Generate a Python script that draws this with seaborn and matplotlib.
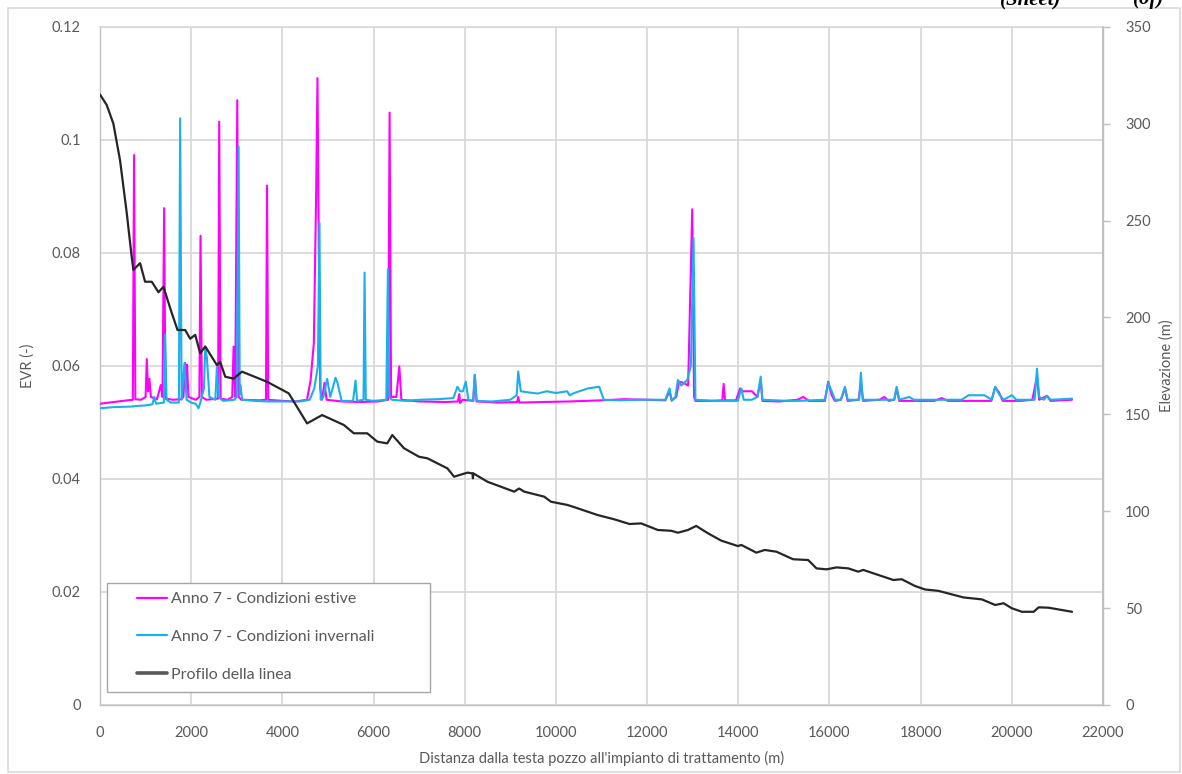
import matplotlib
matplotlib.use("Agg")
import matplotlib.pyplot as plt
from matplotlib.lines import Line2D
from matplotlib.patches import Rectangle
import pandas as pd
import seaborn as sns

# Distance along the line (m) and EVR, summer conditions
estive_dist = [0, 300, 600, 720, 747, 775, 900, 1000, 1026, 1055, 1084, 1115, 1250,
               1333, 1370, 1407, 1435, 1600, 1780, 1830, 1868, 1890, 1910, 1940, 2100,
               2180, 2205, 2235, 2330, 2590, 2615, 2645, 2800, 2900, 2930, 2965, 3011,
               3040, 3100, 3500, 3640, 3663, 3690, 4000, 4300, 4540, 4620, 4690, 4740,
               4770, 4800, 4830, 4870, 4924, 4970, 5300, 5700, 6100, 6320, 6352, 6385,
               6500, 6565, 6610, 7000, 7600, 7850, 7880, 7900, 7950, 8190, 8221, 8260,
               8700, 9150, 9173, 9200, 9700, 10300, 11000, 11500, 12000, 12400, 12492,
               12540, 12640, 12700, 12800, 12900, 12946, 12990, 13030, 13060, 13400,
               13650, 13679, 13710, 13950, 14040, 14100, 14300, 14420, 14492, 14530,
               14900, 15300, 15423, 15550, 15900, 15972, 16050, 16120, 16250, 16339,
               16400, 16640, 16690, 16740, 17100, 17200, 17300, 17420, 17474, 17530,
               18300, 18463, 18600, 19550, 19636, 19720, 19800, 20200, 20450, 20552,
               20600, 20772, 20850, 21321]
estive_evr = [.0533, .0536, .0539, .0540, .0973, .0541, .0540, .0545, .0612, .0555, .0577,
              .0545, .0541, .0566, .0545, .0879, .0542, .0540, .0541, .0545, .0605, .0560,
              .0602, .0545, .0540, .0545, .0830, .0545, .0540, .0542, .1032, .0542, .0540,
              .0545, .0634, .0545, .1070, .0545, .0540, .0539, .0540, .0919, .0540, .0538,
              .0537, .0540, .0575, .0640, .0900, .1109, .0800, .0560, .0540, .0570, .0540,
              .0537, .0536, .0537, .0540, .1048, .0545, .0545, .0599, .0540, .0537, .0536,
              .0537, .0550, .0534, .0540, .0538, .0584, .0537, .0535, .0536, .0545, .0535,
              .0536, .0537, .0539, .0541, .0540, .0539, .0555, .0539, .0545, .0572, .0570,
              .0565, .0726, .0877, .0545, .0538, .0538, .0539, .0568, .0539, .0539, .0560,
              .0555, .0555, .0545, .0575, .0538, .0537, .0540, .0545, .0538, .0538, .0572,
              .0548, .0538, .0540, .0560, .0538, .0540, .0570, .0538, .0540, .0545, .0538,
              .0540, .0560, .0538, .0538, .0543, .0538, .0538, .0562, .0553, .0538, .0538,
              .0540, .0581, .0540, .0547, .0538, .0540]

# Distance along the line (m) and EVR, winter conditions
invernali_dist = [0, 300, 700, 800, 1000, 1150, 1190, 1230, 1400, 1428, 1460, 1550, 1730,
                  1758, 1790, 1853, 1900, 2000, 2100, 2161, 2200, 2280, 2308, 2345, 2400,
                  2530, 2564, 2600, 2700, 2950, 3000, 3040, 3065, 3077, 3120, 3400, 3700,
                  4000, 4400, 4600, 4700, 4780, 4814, 4840, 4900, 4983, 5050, 5120, 5165,
                  5202, 5300, 5550, 5605, 5640, 5780, 5803, 5830, 6000, 6280, 6315, 6345,
                  6400, 6700, 7000, 7400, 7750, 7840, 7900, 7960, 8023, 8080, 8180, 8221,
                  8260, 8600, 9000, 9140, 9173, 9230, 9400, 9600, 9800, 10000, 10250,
                  10300, 10400, 10700, 10950, 11050, 11400, 11800, 12400, 12492, 12540,
                  12620, 12676, 12750, 12880, 12960, 13019, 13060, 13500, 13990, 14067,
                  14120, 14300, 14420, 14492, 14530, 15100, 15300, 15900, 15972, 16050,
                  16120, 16250, 16339, 16400, 16650, 16690, 16730, 16900, 17420, 17474,
                  17530, 17750, 17850, 18900, 19050, 19400, 19560, 19636, 19720, 19820,
                  20002, 20100, 20500, 20552, 20600, 20700, 20772, 20850, 21321]
invernali_evr = [.0525, .0527, .0528, .0529, .0530, .0532, .0545, .0533, .0535, .0655,
                 .0540, .0535, .0535, .1038, .0540, .0605, .0540, .0535, .0533, .0525,
                 .0535, .0560, .0632, .0614, .0545, .0540, .0598, .0545, .0538, .0540,
                 .0545, .0988, .0550, .0566, .0540, .0538, .0537, .0537, .0537, .0540,
                 .0560, .0600, .0853, .0540, .0545, .0577, .0545, .0565, .0579, .0572,
                 .0538, .0538, .0574, .0538, .0540, .0765, .0540, .0538, .0540, .0771,
                 .0545, .0540, .0538, .0540, .0541, .0543, .0563, .0555, .0555, .0572,
                 .0540, .0538, .0584, .0538, .0537, .0540, .0548, .0590, .0555, .0553,
                 .0551, .0555, .0552, .0555, .0548, .0552, .0560, .0563, .0540, .0539,
                 .0540, .0540, .0560, .0538, .0545, .0575, .0565, .0575, .0600, .0826,
                 .0540, .0538, .0538, .0560, .0540, .0540, .0545, .0581, .0540, .0538,
                 .0538, .0540, .0570, .0555, .0540, .0540, .0563, .0540, .0540, .0588,
                 .0540, .0540, .0540, .0563, .0540, .0545, .0540, .0540, .0548, .0548,
                 .0540, .0563, .0550, .0540, .0548, .0540, .0540, .0595, .0545, .0540,
                 .0547, .0540, .0542]

# Line profile: distance (m) and elevation (m)
profilo_dist = [0, 147, 293, 440, 586, 696, 733, 879, 989, 1136, 1282, 1392, 1550, 1700,
                1868, 1978, 2088, 2198, 2308, 2564, 2637, 2747, 2930, 3114, 3663, 4140,
                4542, 4872, 5348, 5568, 5861, 6081, 6300, 6411, 6667, 6997, 7181, 7620,
                7767, 8060, 8170, 8180, 8190, 8499, 9083, 9194, 9304, 9743, 9891, 10257,
                10477, 10917, 11283, 11613, 11869, 12236, 12529, 12676, 12895, 13078,
                13335, 13628, 13994, 14067, 14397, 14580, 14837, 15203, 15533, 15716,
                15936, 16156, 16412, 16632, 16742, 17071, 17401, 17584, 17877, 18097,
                18390, 18940, 19343, 19636, 19819, 20002, 20222, 20479, 20589, 20809,
                21028, 21321]
profilo_elev = [315, 309.6, 300, 281, 254, 231, 224.5, 228, 218.4, 218.4, 213, 215.8, 204,
                193.5, 193.5, 189, 191, 181.5, 185, 175.4, 177, 169.4, 168.4, 172, 166.8,
                160.8, 145.3, 149.6, 144.5, 140.2, 140.2, 135.9, 135, 139.3, 132.5, 128.1,
                127.3, 122.1, 117.8, 119.9, 119.5, 117, 119.5, 115.2, 110.1, 111.7, 110.1,
                107.5, 104.9, 103.2, 101.5, 98, 95.8, 93.4, 93.7, 90.3, 89.9, 88.9, 90.3,
                92.4, 88.6, 84.8, 82, 82.6, 78.6, 80, 79.1, 75.2, 74.8, 70.5, 70, 71, 70.5,
                68.8, 69.7, 67.1, 64.5, 64.9, 61.4, 59.6, 58.9, 55.5, 54.5, 51.6, 52.5,
                49.9, 48.1, 48.1, 50.4, 50.2, 49.3, 48.1]

labels = ["Anno 7 - Condizioni estive", "Anno 7 - Condizioni invernali", "Profilo della linea"]
x_ticks = list(range(0, 22001, 2000))
evr_ticks = [0, 0.02, 0.04, 0.06, 0.08, 0.1, 0.12]
evr_tick_labels = ["0", "0.02", "0.04", "0.06", "0.08", "0.1", "0.12"]
elev_ticks = list(range(0, 351, 50))

MAGENTA = "#ff00ff"
CYAN = "#1cb0ea"
BLACK = "#262626"
GRID = "#d9d9d9"
TEXT = "#595959"
FS = 10.5

sns.set_theme(style="white")
plt.rcParams["font.family"] = ["Lato", "DejaVu Sans"]

W, H = 1182, 774
fig = plt.figure(figsize=(W / 100, H / 100), dpi=100)
ax = fig.add_axes([100 / W, 1 - 705 / H, 1003 / W, 678.3 / H])

estive = pd.DataFrame({"dist": estive_dist, "evr": estive_evr})
invernali = pd.DataFrame({"dist": invernali_dist, "evr": invernali_evr})
profilo = pd.DataFrame({"dist": profilo_dist, "elev": profilo_elev})

sns.lineplot(data=estive, x="dist", y="evr", ax=ax, color=MAGENTA, lw=1.5,
             estimator=None, zorder=3)
sns.lineplot(data=invernali, x="dist", y="evr", ax=ax, color=CYAN, lw=1.5,
             estimator=None, zorder=4)

ax.set_xlim(0, 22000)
ax.set_ylim(0, 0.12)
ax.set_xticks(x_ticks)
ax.set_xticklabels([str(t) for t in x_ticks])
ax.set_yticks(evr_ticks)
ax.set_yticklabels(evr_tick_labels)
ax.grid(True, color=GRID, lw=1.3)
ax.set_axisbelow(True)
for side in ["left", "bottom", "right"]:
    ax.spines[side].set_color("#bfbfbf")
    ax.spines[side].set_linewidth(1.0)
ax.spines["top"].set_color(GRID)
ax.tick_params(axis="both", length=0, colors=TEXT, labelsize=FS)
ax.tick_params(axis="x", pad=15)
ax.tick_params(axis="y", pad=14)
ax.set_xlabel("Distanza dalla testa pozzo all'impianto di trattamento (m)",
              color=TEXT, fontsize=FS, labelpad=8)
ax.set_ylabel("EVR (-)", color=TEXT, fontsize=FS, labelpad=12)

ax2 = ax.twinx()
sns.lineplot(data=profilo, x="dist", y="elev", ax=ax2, color=BLACK, lw=1.6,
             estimator=None, zorder=5)
ax2.set_ylim(0, 350)
ax2.set_yticks(elev_ticks)
ax2.set_yticklabels([str(t) for t in elev_ticks])
for side in ["left", "bottom", "top"]:
    ax2.spines[side].set_visible(False)
ax2.spines["right"].set_color("#bfbfbf")
ax2.tick_params(axis="y", direction="out", length=5, width=1, color="#bfbfbf",
                labelcolor=TEXT, labelsize=FS, pad=11)
ax2.set_ylabel("Elevazione (m)", color=TEXT, fontsize=FS, rotation=90, labelpad=6)
ax2.set_xlabel("")
ax2.grid(False)

# legend: frame drawn as its own box, entries placed inside it
ax2.add_patch(Rectangle((7 / 1003, 13 / 678.3), 323 / 1003, 109 / 678.3,
                        transform=ax2.transAxes, fill=True, facecolor="white",
                        edgecolor="#a6a6a6", lw=1.0, zorder=9))
handles = [Line2D([], [], color=MAGENTA, lw=1.6),
           Line2D([], [], color=CYAN, lw=1.6),
           Line2D([], [], color="#595959", lw=2.6)]
leg = ax2.legend(handles, labels, loc="upper left",
                 bbox_to_anchor=(37 / 1003, 1 - (592 - 26.7) / 678.3),
                 borderaxespad=0, borderpad=0, frameon=False,
                 labelspacing=1.48, handlelength=1.9, handletextpad=0.2,
                 fontsize=11.5)
for t in leg.get_texts():
    t.set_color(TEXT)
leg.set_zorder(10)

# page frame and running header
fig.add_artist(Rectangle((8 / W, 2 / H), 1172 / W, 764 / H,
                         transform=fig.transFigure, fill=False,
                         edgecolor="#d9d9d9", lw=1.2))
fig.text(1000 / W, 1 - 4 / H, "(Sheet)", family="Liberation Serif",
         style="italic", weight="bold", fontsize=15, color="black", va="baseline")
fig.text(1133 / W, 1 - 4 / H, "(of)", family="Liberation Serif",
         style="italic", weight="bold", fontsize=15, color="black", va="baseline")

fig.savefig("out.png", dpi=100)
